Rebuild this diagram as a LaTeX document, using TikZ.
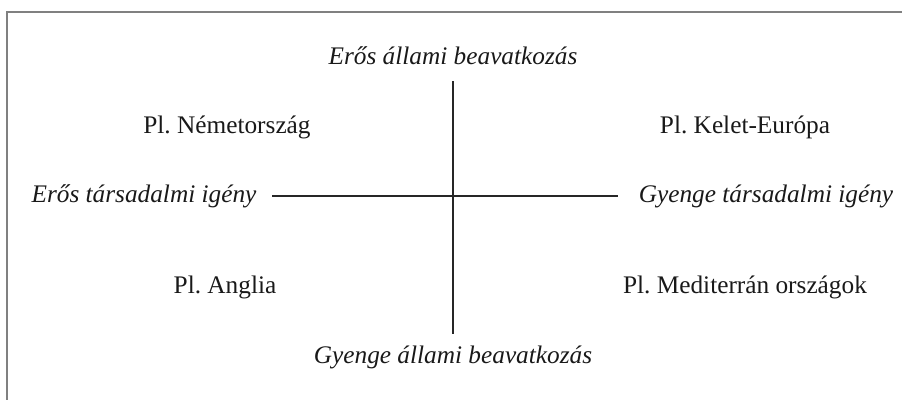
\documentclass[tikz,border=0pt]{standalone}
\usepackage{fontspec}
\setmainfont{Liberation Serif}
\frenchspacing
\begin{document}
\begin{tikzpicture}[x=1pt,y=-1pt,
  lbl/.style={anchor=base,inner sep=0pt,text=black!90,font=\fontsize{25.3}{30}\selectfont},
  axislbl/.style={lbl,font=\fontsize{25.3}{30}\selectfont\itshape},
  axisline/.style={draw=black!85,line width=1.4pt},
  frameline/.style={draw=black!50,line width=1.5pt}]
\useasboundingbox (0,0) rectangle (902,399);
\draw[frameline] (7,12) rectangle (905,402);
\node[axislbl] (top) at (453,64) {Erős állami beavatkozás};
\node[axislbl] (bottom) at (453,363) {Gyenge állami beavatkozás};
\node[axislbl] (left) at (144,202) {Erős társadalmi igény};
\node[axislbl] (right) at (766,202) {Gyenge társadalmi igény};
\node[lbl] (de) at (227,133) {Pl.\ Németország};
\node[lbl] (ee) at (745,133) {Pl.\ Kelet-Európa};
\node[lbl] (uk) at (225,293) {Pl.\ Anglia};
\node[lbl] (med) at (745,293) {Pl.\ Mediterrán országok};
\coordinate (vt) at (453,81);
\coordinate (vb) at (453,334);
\coordinate (hl) at (272,196);
\coordinate (hr) at (618,196);
\draw[axisline] (vt) -- (vb);
\draw[axisline] (hl) -- (hr);
\end{tikzpicture}
\end{document}
